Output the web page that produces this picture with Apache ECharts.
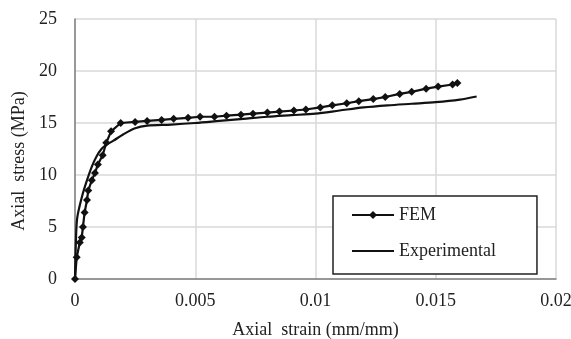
<!DOCTYPE html>
<html>
<head>
<meta charset="utf-8">
<script src="https://cdn.jsdelivr.net/npm/echarts@6/dist/echarts.min.js"></script>
<style>
	html, body { margin: 0; padding: 0; background: #fff; }
	#chart { width: 571px; height: 339px; }
</style>
</head>
<body>
<div id="chart"></div>
<script>
	// FEM curve (strain mm/mm, stress MPa)
	var femStrain = [0, 0.00007, 0.0002, 0.00028, 0.00033, 0.0004, 0.0005, 0.00055, 0.0007, 0.00083, 0.00095, 0.00115, 0.0013, 0.0015,
		0.0019, 0.0025, 0.0030, 0.0036, 0.0041, 0.0047, 0.0052, 0.0058, 0.0063, 0.0069, 0.0074, 0.0080, 0.0085, 0.0091,
		0.0096, 0.0102, 0.0107, 0.0113, 0.0118, 0.0124, 0.0129, 0.0135, 0.0140, 0.0146, 0.0151, 0.0157, 0.0159];
	var femStress = [0, 2.1, 3.5, 4.0, 5.0, 6.4, 7.6, 8.5, 9.5, 10.2, 11.0, 11.9, 13.1, 14.2,
		15.0, 15.1, 15.2, 15.3, 15.4, 15.5, 15.6, 15.6, 15.7, 15.8, 15.9, 16.0, 16.1, 16.2,
		16.3, 16.5, 16.7, 16.9, 17.1, 17.3, 17.5, 17.8, 18.0, 18.3, 18.5, 18.7, 18.85];

	// experimental curve
	var expStrain = [0, 0.00005, 0.0001, 0.0003, 0.0005, 0.0007, 0.0009, 0.0011, 0.0013, 0.0016, 0.002, 0.0025, 0.003,
		0.004, 0.005, 0.006, 0.007, 0.008, 0.009, 0.010, 0.011, 0.012, 0.013, 0.014, 0.015, 0.016, 0.0167];
	var expStress = [0, 4.5, 6.0, 8.0, 9.5, 10.8, 11.8, 12.5, 12.9, 13.3, 13.9, 14.5, 14.75,
		14.85, 15.0, 15.2, 15.4, 15.6, 15.75, 15.9, 16.2, 16.5, 16.7, 16.85, 17.0, 17.25, 17.55];

	var xTicks = [0, 0.005, 0.01, 0.015, 0.02];
	var yTicks = [0, 5, 10, 15, 20, 25];

	function pairs(xs, ys) {
		var out = [];
		for(var i = 0; i < xs.length; i++) {
			out.push([xs[i], ys[i]]);
		}
		return out;
	}

	var font = 'Liberation Serif';
	var chart = echarts.init(document.getElementById('chart'));
	chart.setOption({
		animation: false,
		textStyle: { fontFamily: font, color: '#222' },
		grid: { left: 75, right: 15, top: 19, bottom: 60, outerBoundsMode: 'none' },
		legend: {
			orient: 'vertical',
			left: 333,
			top: 196,
			padding: [10, 41, 14, 18],
			itemGap: 18,
			itemWidth: 42,
			itemHeight: 10,
			backgroundColor: '#fff',
			borderColor: '#222',
			borderWidth: 1.5,
			textStyle: { fontFamily: font, fontSize: 18, color: '#222' },
			data: ['FEM', { name: 'Experimental', itemStyle: { opacity: 0 } }]
		},
		xAxis: {
			type: 'value',
			min: xTicks[0],
			max: xTicks[xTicks.length - 1],
			interval: 0.005,
			name: 'Axial  strain (mm/mm)',
			nameLocation: 'middle',
			nameGap: 42,
			nameTextStyle: { fontFamily: font, fontSize: 18, color: '#222' },
			axisLine: { lineStyle: { color: '#7f7f7f', width: 1.5 } },
			axisTick: { show: false },
			axisLabel: { fontFamily: font, fontSize: 18, color: '#222', margin: 13 },
			splitLine: { lineStyle: { color: '#d9d9d9', width: 1.5 } }
		},
		yAxis: {
			type: 'value',
			min: yTicks[0],
			max: yTicks[yTicks.length - 1],
			interval: 5,
			name: 'Axial  stress (MPa)',
			nameLocation: 'middle',
			nameGap: 46,
			nameTextStyle: { fontFamily: font, fontSize: 18, color: '#222', padding: [0, 24, 0, 0] },
			axisLine: { show: true, lineStyle: { color: '#7f7f7f', width: 1.5 } },
			axisTick: { show: false },
			axisLabel: { fontFamily: font, fontSize: 18, color: '#222', margin: 18 },
			splitLine: { lineStyle: { color: '#d9d9d9', width: 1.5 } }
		},
		series: [{
			name: 'FEM',
			type: 'line',
			data: pairs(femStrain, femStress),
			symbol: 'diamond',
			symbolSize: 8,
			showAllSymbol: true,
			itemStyle: { color: '#111' },
			lineStyle: { color: '#111', width: 2.2 },
			z: 3
		}, {
			name: 'Experimental',
			type: 'line',
			data: pairs(expStrain, expStress),
			symbol: 'none',
			smooth: 0.3,
			itemStyle: { color: '#111' },
			lineStyle: { color: '#111', width: 2.2 },
			z: 2
		}]
	});
</script>
</body>
</html>
